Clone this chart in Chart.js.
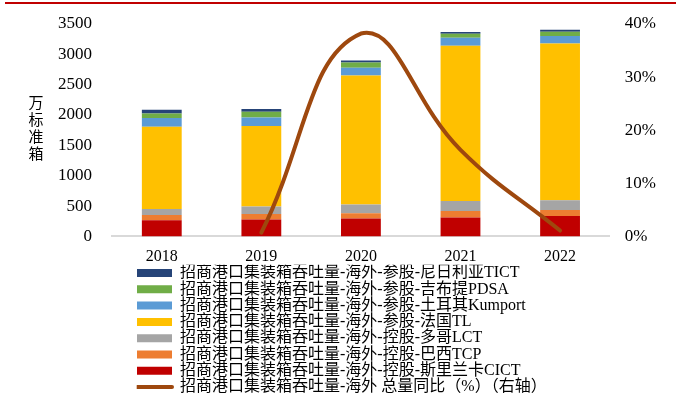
<!DOCTYPE html>
<html><head><meta charset="utf-8">
<script src="https://cdn.jsdelivr.net/npm/chart.js@4/dist/chart.umd.min.js"></script>
<style>html,body{margin:0;padding:0;background:#fff;}#wrap{width:676px;height:396px;position:relative;}</style>
</head><body><div id="wrap"><canvas id="c" width="676" height="396"></canvas></div>
<script>
const categories = ['2018', '2019', '2020', '2021', '2022'];
const seriesNames = [
  '招商港口集装箱吞吐量-海外-控股-斯里兰卡CICT',
  '招商港口集装箱吞吐量-海外-控股-巴西TCP',
  '招商港口集装箱吞吐量-海外-控股-多哥LCT',
  '招商港口集装箱吞吐量-海外-参股-法国TL',
  '招商港口集装箱吞吐量-海外-参股-土耳其Kumport',
  '招商港口集装箱吞吐量-海外-参股-吉布提PDSA',
  '招商港口集装箱吞吐量-海外-参股-尼日利亚TICT'
];
const lineName = '招商港口集装箱吞吐量-海外 总量同比（%）（右轴）';
const cict    = [265, 280, 296, 313, 336];
const tcp     = [89, 89, 84, 106, 100];
const lct     = [99, 122, 144, 166, 160];
const tl      = [1355, 1330, 2128, 2555, 2584];
const kumport = [144, 138, 129, 133, 121];
const pdsa    = [72, 95, 83, 67, 72];
const tict    = [61, 45, 33, 28, 33];
const yoy     = [null, 0.7, 38.2, 16.3, 1.1];
const leftTicks  = [0, 500, 1000, 1500, 2000, 2500, 3000, 3500];
const rightTicks = [0, 10, 20, 30, 40];
const yTitleChars = ['万', '标', '准', '箱'];

const barColors = ['#C00000', '#ED7D31', '#A5A5A5', '#FFC000', '#5B9BD5', '#70AD47', '#264478'];
const lineColor = '#9E480E';
const serif = "'Liberation Serif', 'Times New Roman', 'Noto Sans CJK SC', serif";

const barSeries = [cict, tcp, lct, tl, kumport, pdsa, tict];
const datasets = barSeries.map((d, i) => ({
  type: 'bar', label: seriesNames[i], data: d, backgroundColor: barColors[i],
  borderWidth: 0, stack: 's', yAxisID: 'y', categoryPercentage: 1, barPercentage: 0.4
}));
datasets.push({
  type: 'line', label: lineName, data: yoy, borderColor: lineColor, backgroundColor: lineColor,
  borderWidth: 4, pointRadius: 0, tension: 0.45, yAxisID: 'y1', order: -1, fill: false,
  borderCapStyle: 'round'
});

const decor = {
  id: 'decor',
  afterLayout(chart) {
    if (chart.legend) { chart.legend.left = 136.7; chart.legend.top = 264.7; }
  },
  afterDraw(chart) {
    const ctx = chart.ctx, ca = chart.chartArea;
    ctx.save();
    ctx.strokeStyle = '#C00000'; ctx.lineWidth = 2;
    ctx.beginPath(); ctx.moveTo(5, 3); ctx.lineTo(676, 3); ctx.stroke();
    ctx.fillStyle = '#000';
    ctx.font = "15px 'Noto Sans CJK SC'";
    ctx.textAlign = 'center'; ctx.textBaseline = 'middle';
    const cy = (ca.top + ca.bottom) / 2 - 2, step = 17;
    yTitleChars.forEach((ch, i) => ctx.fillText(ch, 36, cy + (i - 1.5) * step));
    ctx.restore();
  }
};

const noTopPad = s => { s.paddingTop = 0; };

new Chart(document.getElementById('c'), {
  data: { labels: categories, datasets },
  plugins: [decor],
  options: {
    responsive: false, animation: false,
    layout: { padding: { left: 38, right: 5, top: 24, bottom: -22 } },
    plugins: {
      tooltip: { enabled: false },
      legend: {
        position: 'bottom', align: 'start',
        labels: {
          usePointStyle: true, pointStyleWidth: 35, boxHeight: 8, padding: 0.3,
          color: '#000', font: { family: serif, size: 16 },
          generateLabels(chart) {
            const items = Chart.defaults.plugins.legend.labels.generateLabels(chart);
            items.forEach(it => {
              if (it.datasetIndex === 7) {
                it.pointStyle = 'line'; it.lineWidth = 4; it.strokeStyle = lineColor; it.lineCap = 'round';
              } else {
                it.pointStyle = 'rect'; it.lineWidth = 0;
              }
            });
            return items;
          },
          sort(a, b) {
            const r = i => (i === 7 ? 99 : 6 - i);
            return r(a.datasetIndex) - r(b.datasetIndex);
          }
        }
      }
    },
    scales: {
      x: {
        stacked: true,
        grid: { display: false, drawTicks: false },
        border: { color: '#D9D9D9', width: 2 },
        ticks: { color: '#000', font: { family: serif, size: 16 }, padding: 11 }
      },
      y: {
        stacked: true, min: 0, max: 3500,
        afterBuildTicks: ax => { ax.ticks = leftTicks.map(v => ({ value: v })); },
        afterFit: noTopPad,
        grid: { display: false, drawTicks: false },
        border: { display: false },
        ticks: { color: '#000', font: { family: serif, size: 17 }, padding: 20, callback: v => String(v) }
      },
      y1: {
        position: 'right', min: 0, max: 40,
        afterBuildTicks: ax => { ax.ticks = rightTicks.map(v => ({ value: v })); },
        afterFit: noTopPad,
        grid: { display: false, drawTicks: false },
        border: { display: false },
        ticks: { color: '#000', font: { family: serif, size: 17 }, padding: 15, callback: v => v + '%' }
      }
    }
  }
});
</script></body></html>
